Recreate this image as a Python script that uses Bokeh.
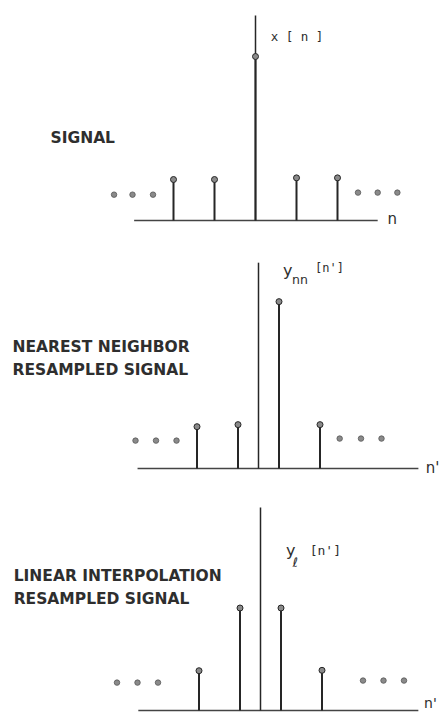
from bokeh.plotting import figure
from bokeh.layouts import column
from bokeh.models import Range1d
from bokeh.embed import file_html
from bokeh.resources import INLINE
from bokeh.core.properties import value

# ---------------- data ----------------
# original signal x[n]
signal_n = [-2, -1, 0, 1, 2]
signal_x = [1.0, 1.0, 4.0, 1.04, 1.04]
signal_dots_left = [-3.45, -3.0, -2.5]
signal_dots_right = [2.5, 2.98, 3.46]
signal_dots_y = [0.63, 0.68]

# nearest neighbour resampled y_nn[n']
nn_n = [-1.5, -0.5, 0.5, 1.5]
nn_y = [1.02, 1.07, 4.07, 1.07]
nn_dots_left = [-3.0, -2.5, -2.0]
nn_dots_right = [1.98, 2.5, 3.0]
nn_dots_y = [0.68, 0.73]

# linear interpolation resampled y_l[n']
lin_n = [-1.5, -0.5, 0.5, 1.5]
lin_y = [0.97, 2.5, 2.5, 0.98]
lin_dots_left = [-3.5, -3.0, -2.5]
lin_dots_right = [2.5, 3.0, 3.5]
lin_dots_y = [0.68, 0.73]

titles = ["SIGNAL", "NEAREST NEIGHBOR\nRESAMPLED SIGNAL", "LINEAR INTERPOLATION\nRESAMPLED SIGNAL"]

# ---------------- style ----------------
S = 41.0            # pixels per unit
W = 445
INK = "#262626"
TXT = "#2e2e2e"
AXIS = "#444444"
DOT_FILL = "#8a8a8a"
LABEL_FONT = value("DejaVu Sans")
MONO = value("DejaVu Sans Mono")


def make_panel(h, ox, base_from_bottom):
    p = figure(width=W, height=h, output_backend="svg", toolbar_location=None,
               x_range=Range1d(-ox / S, (W - ox) / S),
               y_range=Range1d(-base_from_bottom / S, (h - base_from_bottom) / S),
               min_border=0)
    p.axis.visible = False
    p.grid.visible = False
    p.outline_line_color = None
    p.background_fill_color = "white"
    p.border_fill_color = "white"
    return p


def stems(p, xs, ys, dl, dr, dy, ax_left, ax_right, ax_top):
    p.segment(x0=[ax_left], y0=[0], x1=[ax_right], y1=[0], line_color=AXIS, line_width=1.6)
    p.segment(x0=[0], y0=[0], x1=[0], y1=[ax_top], line_color=INK, line_width=1.5)
    p.segment(x0=xs, y0=[0] * len(xs), x1=xs, y1=ys, line_color=INK, line_width=2)
    p.scatter(xs, ys, size=6, fill_color=DOT_FILL, line_color=INK, line_width=1)
    p.scatter(dl, [dy[0]] * len(dl), size=5.5, fill_color=DOT_FILL, line_color="#555555", line_width=0.8)
    p.scatter(dr, [dy[1]] * len(dr), size=5.5, fill_color=DOT_FILL, line_color="#555555", line_width=0.8)


def label(p, x, y, txt, size, font=LABEL_FONT, style="bold", baseline="middle"):
    p.text(x=[x], y=[y], text=[txt], text_font=font, text_font_size=f"{size}px",
           text_font_style=style, text_color=TXT, text_baseline=baseline, text_align="left",
           text_line_height=1.3)


# ---------------- panel 1 ----------------
p1 = make_panel(240, 255, 20)
stems(p1, signal_n, signal_x, signal_dots_left, signal_dots_right, signal_dots_y, -2.96, 2.98, 5.0)
label(p1, 0.37, 4.5, "x [ n ]", 12.5, MONO, "normal")
label(p1, 3.22, 0.03, "n", 15, LABEL_FONT, "normal")
label(p1, -5.0, 2.02, titles[0], 15.5)

# ---------------- panel 2 ----------------
p2 = make_panel(240, 258, 12)
stems(p2, nn_n, nn_y, nn_dots_left, nn_dots_right, nn_dots_y, -2.95, 3.9, 5.02)
label(p2, 0.6, 4.82, "y", 16, LABEL_FONT, "normal")
label(p2, 0.82, 4.62, "nn", 12.5, LABEL_FONT, "normal")
label(p2, 1.38, 4.9, "[n']", 12, MONO, "normal")
label(p2, 4.08, 0.02, "n'", 15, LABEL_FONT, "normal")
label(p2, -6.0, 2.685, titles[1], 15.5)

# ---------------- panel 3 ----------------
p3 = make_panel(233, 260, 3)
stems(p3, lin_n, lin_y, lin_dots_left, lin_dots_right, lin_dots_y, -2.98, 3.85, 4.95)
label(p3, 0.62, 3.9, "y", 16, LABEL_FONT, "normal")
label(p3, 0.78, 3.62, "\u2113", 13, LABEL_FONT, "normal")
label(p3, 1.2, 3.9, "[n']", 13, MONO, "normal")
label(p3, 3.99, 0.0, "n'", 14, LABEL_FONT, "normal", "bottom")
label(p3, -6.02, 3.0, titles[2], 15.5)

layout = column(p1, p2, p3, spacing=0)
open("out.html", "w").write(file_html(layout, INLINE))
